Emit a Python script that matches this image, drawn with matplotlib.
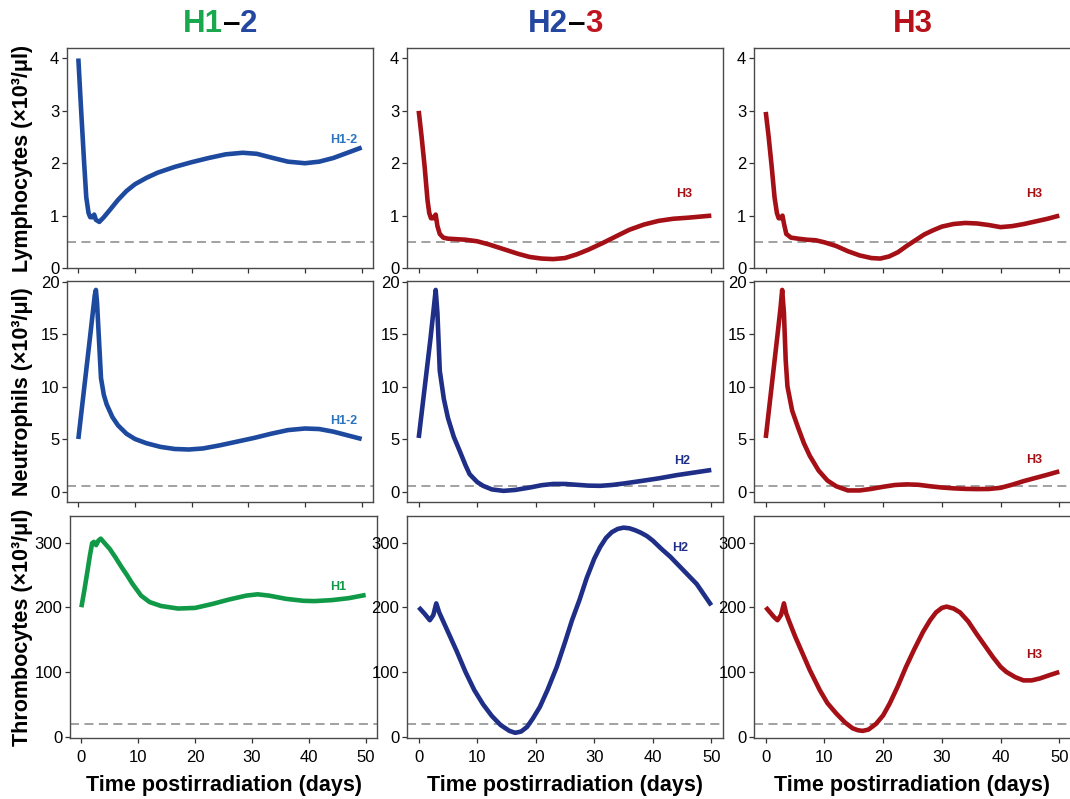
import matplotlib
matplotlib.use("Agg")
import matplotlib.pyplot as plt
from matplotlib.offsetbox import TextArea, HPacker, AnnotationBbox

plt.rcParams['font.family'] = ['Liberation Sans', 'DejaVu Sans']

# ---- data (days, counts) ----
# column 1: H1-2
lym1_t = [0, 0.5, 1.0, 1.4, 1.8, 2.1, 2.5, 2.8, 3.1, 3.7, 4.5, 5.5, 7, 8.5, 10, 12, 14, 17, 20, 23, 26, 29, 31.5, 34, 37, 40, 42.5, 45, 47.5, 50]
lym1_v = [4.0, 3.0, 2.05, 1.35, 1.05, 0.97, 0.97, 1.02, 0.92, 0.88, 0.97, 1.1, 1.3, 1.47, 1.6, 1.72, 1.82, 1.93, 2.02, 2.1, 2.17, 2.2, 2.18, 2.11, 2.03, 2.0, 2.03, 2.1, 2.2, 2.3]
neu1_t = [0, 1, 2, 2.9, 3.1, 3.3, 3.6, 4.0, 4.5, 5.0, 6, 7, 8.5, 10, 12, 14.5, 17, 19.5, 22, 25, 28, 31, 34, 37, 40, 42.5, 45, 47.5, 50]
neu1_v = [5.0, 9.7, 14.4, 18.7, 19.2, 18.0, 14.9, 10.8, 9.2, 8.3, 7.1, 6.3, 5.5, 5.0, 4.6, 4.25, 4.05, 4.0, 4.1, 4.4, 4.75, 5.1, 5.5, 5.85, 6.0, 5.95, 5.7, 5.35, 5.0]
thr1_t = [0, 0.5, 1.0, 1.5, 1.9, 2.2, 2.6, 3.0, 3.4, 4, 5, 6, 7, 8, 9, 10.5, 12, 14, 17, 20, 23, 26, 29, 31, 33, 36, 39, 41, 44, 47, 50]
thr1_v = [200, 225, 252, 280, 299, 301, 296, 303, 306, 300, 290, 277, 263, 250, 236, 218, 208, 202, 198, 199, 205, 212, 218, 220, 218, 213, 210, 209.5, 211, 214, 219]

# column 2: H2-3
lym2_t = [0, 0.5, 1.0, 1.5, 1.8, 2.1, 2.5, 2.9, 3.2, 3.6, 4.2, 5, 6.5, 8, 10, 12, 14.5, 17, 19, 21, 23, 25, 27, 29, 31.5, 34, 36, 38.5, 41, 43.5, 46, 48, 50]
lym2_v = [3.0, 2.5, 1.95, 1.3, 1.05, 0.95, 0.95, 1.02, 0.8, 0.65, 0.58, 0.56, 0.55, 0.54, 0.51, 0.45, 0.36, 0.27, 0.21, 0.18, 0.17, 0.19, 0.26, 0.35, 0.48, 0.62, 0.73, 0.83, 0.9, 0.94, 0.96, 0.98, 1.0]
neu2_t = [0, 1, 2, 2.6, 2.9, 3.2, 3.6, 4.3, 5, 6, 7, 8, 8.7, 10, 11, 12.5, 14.5, 16.5, 19, 21, 23, 25, 27, 29, 31, 33, 35, 38, 41, 44, 47, 50]
neu2_v = [5.1, 9.8, 14.5, 17.6, 19.2, 17.0, 11.5, 8.8, 7.0, 5.2, 3.87, 2.5, 1.65, 0.9, 0.54, 0.2, 0.06, 0.15, 0.38, 0.6, 0.72, 0.72, 0.64, 0.56, 0.54, 0.62, 0.76, 1.0, 1.25, 1.55, 1.8, 2.05]
thr2_t = [0, 1.0, 1.9, 2.5, 3.0, 3.5, 4.2, 5, 6.5, 8, 9.5, 11, 12.5, 14, 15.5, 16.5, 17.5, 18.5, 19.5, 20.7, 22, 23.6, 25, 26.2, 27.5, 28.7, 30, 31, 32, 33, 34, 35, 36, 37, 38, 39, 40, 41.5, 43, 44.5, 46, 47.5, 50]
thr2_v = [200, 190, 180, 188, 206, 192, 178, 162, 132, 100, 72, 50, 32, 18, 9, 6, 8, 15, 28, 46, 72, 108, 146, 180, 212, 245, 275, 293, 307, 316, 321, 323, 322, 319, 315, 310, 303, 290, 278, 264, 250, 236, 203]

# column 3: H3
lym3_t = [0, 0.5, 1.0, 1.5, 1.9, 2.2, 2.5, 2.85, 3.1, 3.5, 4.3, 5.5, 7, 8.5, 10, 12, 14, 16, 18, 19.5, 21, 22.5, 24, 25.5, 27, 28.5, 30, 32, 34, 36, 38, 40, 42, 44, 46, 48, 50]
lym3_v = [2.98, 2.5, 1.95, 1.35, 1.05, 0.95, 0.95, 1.0, 0.85, 0.65, 0.58, 0.56, 0.54, 0.53, 0.49, 0.42, 0.32, 0.24, 0.19, 0.18, 0.22, 0.3, 0.42, 0.53, 0.64, 0.72, 0.79, 0.84, 0.86, 0.85, 0.82, 0.78, 0.8, 0.84, 0.89, 0.94, 1.0]
neu3_t = [0, 1, 2, 2.5, 2.8, 3.1, 3.4, 3.7, 4.5, 5.5, 6.5, 7.5, 9, 10.5, 12, 14, 16, 18, 20, 22, 24, 26, 28, 30, 32, 34, 36, 38, 40, 42, 44, 46, 48, 50]
neu3_v = [5.1, 10.0, 14.9, 17.4, 19.2, 17.0, 12.5, 10.0, 7.7, 6.1, 4.6, 3.4, 2.0, 1.05, 0.5, 0.1, 0.1, 0.25, 0.45, 0.62, 0.68, 0.64, 0.5, 0.38, 0.3, 0.25, 0.23, 0.24, 0.35, 0.65, 1.0, 1.3, 1.6, 1.92]
thr3_t = [0, 1.4, 2.0, 2.6, 3.1, 3.5, 4.0, 5, 6.3, 7.5, 9.2, 10.5, 12, 13.5, 14.8, 15.7, 16.5, 17.5, 18.8, 20, 21.1, 22.5, 23.9, 25.3, 26.8, 28, 29, 30, 30.8, 32, 33.1, 34.5, 35.9, 37.3, 38.7, 40, 41, 42.5, 43.9, 45.3, 46.7, 48.3, 50]
thr3_v = [200, 185, 180, 188, 206, 190, 178, 155, 128, 103, 72, 52, 36, 22, 13, 10, 9, 11, 20, 33, 51, 78, 108, 135, 162, 180, 192, 199, 201, 198, 192, 178, 159, 141, 123, 108, 100, 92, 87, 87, 90, 95, 100]

# curve tags and where they sit (day, value)
tags = [["H1-2", "H3", "H3"],
        ["H1-2", "H2", "H3"],
        ["H1", "H2", "H3"]]
tag_pos = [[(46.8, 2.45), (45.3, 1.41), (45.8, 1.41)],
           [(46.8, 6.7), (45.0, 2.9), (45.8, 3.0)],
           [(45.2, 232), (44.7, 291), (45.8, 126)]]

thresholds = [0.5, 0.5, 20]
row_labels = ["Lymphocytes (\u00d710\u00b3/\u03bcl)", "Neutrophils (\u00d710\u00b3/\u03bcl)", "Thrombocytes (\u00d710\u00b3/\u03bcl)"]
yticks = [[0, 1, 2, 3, 4], [0, 5, 10, 15, 20], [0, 100, 200, 300]]
ylims = [(0, 4.2), (-1, 20.05), (-2, 341)]
xticks = [0, 10, 20, 30, 40, 50]

# colours
green = "#109a48"
blue = "#1d4a9f"
navy = "#1f2f87"
red = "#a50f16"
tag_blue = "#2b74c2"

series = [[(lym1_t, lym1_v, blue), (lym2_t, lym2_v, red), (lym3_t, lym3_v, red)],
          [(neu1_t, neu1_v, blue), (neu2_t, neu2_v, navy), (neu3_t, neu3_v, red)],
          [(thr1_t, thr1_v, green), (thr2_t, thr2_v, navy), (thr3_t, thr3_v, red)]]
tag_colors = [[tag_blue, red, red], [tag_blue, navy, red], [green, navy, red]]

titles = [[("H1", "#1aa84f"), ("\u2013", "black"), ("2", "#2447a0")],
          [("H2", "#2447a0"), ("\u2013", "black"), ("3", "#c0141e")],
          [("H3", "#b5121c")]]

W, H = 1070, 799
fig = plt.figure(figsize=(W / 100, H / 100), dpi=100)

# panel boxes in pixels (left, right) per column and (top, bottom) per row
cols = [(67, 373), (407, 723), (754, 1071)]
rows = [(48, 268), (281, 502), (516, 738)]


def box(l, r, t, b):
    return [l / W, 1 - b / H, (r - l) / W, (b - t) / H]


axes = []
for i in range(3):
    for j in range(3):
        l, r = cols[j]
        if i == 2 and j == 0:
            l, r = l + 3, r + 4
        t, b = rows[i]
        ax = fig.add_axes(box(l, r, t, b))
        tt, vv, c = series[i][j]
        ax.plot(tt, vv, color=c, lw=3.3, solid_capstyle='butt', solid_joinstyle='round', zorder=3)
        ax.axhline(thresholds[i], color="#9a9a9a", lw=1.3, dashes=(5, 3), zorder=2)
        tx, ty = tag_pos[i][j]
        ax.text(tx, ty, tags[i][j], color=tag_colors[i][j], fontsize=9,
                fontweight='bold', ha='center', va='center')
        ax.set_xlim(-2, 52)
        ax.set_ylim(*ylims[i])
        ax.set_xticks(xticks)
        ax.set_yticks(yticks[i])
        for s in ax.spines.values():
            s.set_color("#4a4a4a")
            s.set_linewidth(1.0)
        ax.tick_params(direction='out', length=3.5, width=0.9, color="#333333",
                       labelsize=12, pad=2)
        ax.tick_params(axis='x', pad=5)
        if i < 2:
            ax.tick_params(labelbottom=False)
        axes.append(ax)

# row labels
for i in range(3):
    t, b = rows[i]
    fig.text(23 / W, 1 - (t + b) / 2 / H, row_labels[i], rotation=90,
             ha='center', va='center', fontsize=15.5, fontweight='bold')

# x labels
for j in range(3):
    l, r = cols[j]
    if j == 0:
        l, r = l + 3, r + 4
    fig.text((l + r) / 2 / W, 1 - 785 / H, "Time postirradiation (days)",
             ha='center', va='center', fontsize=15.5, fontweight='bold')

# multicoloured column titles
for j in range(3):
    l, r = cols[j]
    parts = [TextArea(s, textprops=dict(color=c, fontsize=22.5, fontweight='bold'))
             for s, c in titles[j]]
    pack = HPacker(children=parts, align='baseline', pad=0, sep=0)
    ab = AnnotationBbox(pack, ((l + r) / 2 / W, 1 - 24 / H), xycoords='figure fraction',
                        box_alignment=(0.5, 0.5), frameon=False)
    fig.add_artist(ab)

fig.savefig("out.png", dpi=100)
